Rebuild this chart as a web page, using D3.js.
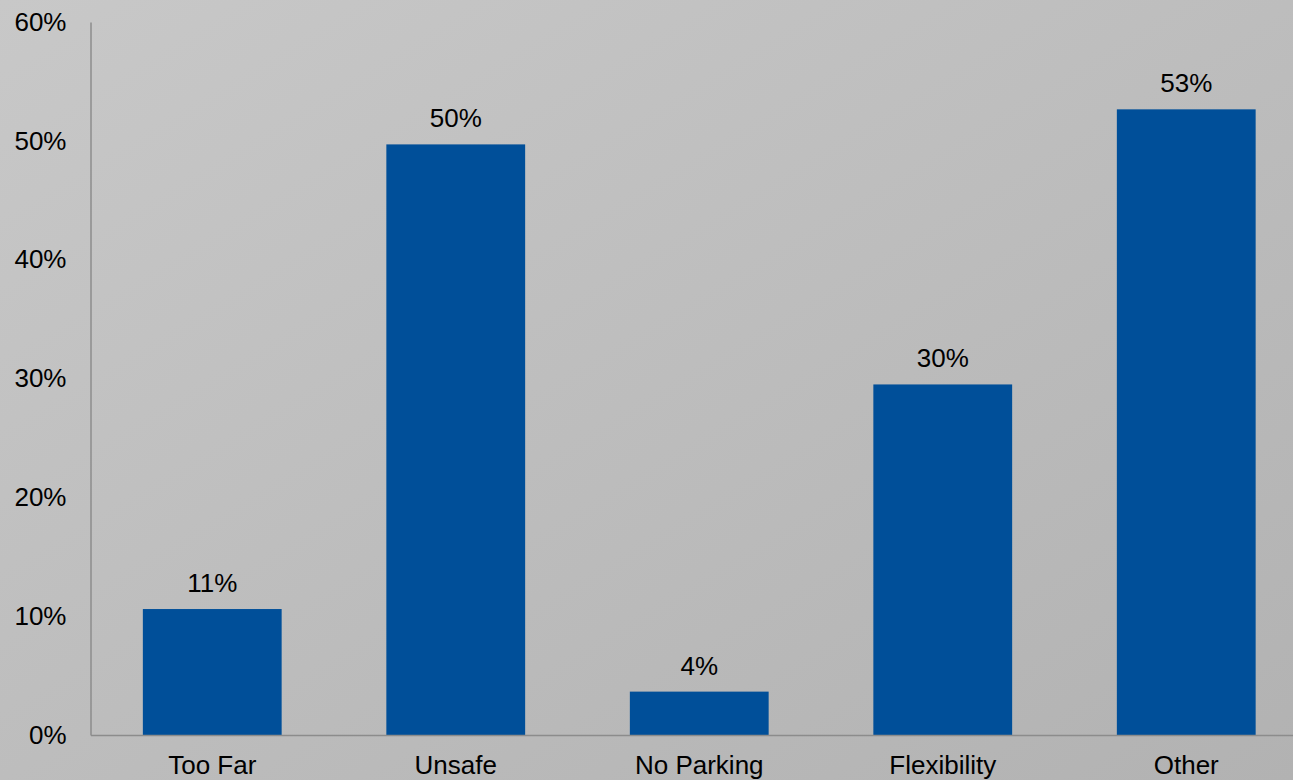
<!DOCTYPE html>
<html>
<head>
<meta charset="utf-8">
<script src="https://cdn.jsdelivr.net/npm/d3@7"></script>
<style>
  html, body { margin: 0; padding: 0; overflow: hidden; }
  svg { display: block; }
  text { font-family: "Liberation Sans", Arial, sans-serif; fill: #000; }
</style>
</head>
<body>
<svg id="chart" width="1293" height="780"></svg>
<script>
const categories = ["Too Far", "Unsafe", "No Parking", "Flexibility", "Other"];
const values = [10.6, 49.7, 3.65, 29.5, 52.65];
const valueLabels = ["11%", "50%", "4%", "30%", "53%"];
const yTicks = [0, 10, 20, 30, 40, 50, 60];

const W = 1293, H = 780;
const FS = "26px";
const svg = d3.select("#chart");

const defs = svg.append("defs");
const grad = defs.append("linearGradient").attr("id", "bg")
  .attr("x1", "0%").attr("y1", "0%").attr("x2", "100%").attr("y2", "100%");
grad.append("stop").attr("offset", "0%").attr("stop-color", "#c8c8c8");
grad.append("stop").attr("offset", "100%").attr("stop-color", "#b2b2b2");
svg.append("rect").attr("width", W).attr("height", H).attr("fill", "url(#bg)");

const x0 = 90.5, x1 = 1308, yTop = 22, yBot = 735;
const x = d3.scaleBand().domain(categories).range([x0, x1]).paddingInner(0.43).paddingOuter(0.215);
const y = d3.scaleLinear().domain([0, 60]).range([yBot, yTop]);

// bars
svg.selectAll("rect.bar").data(categories).enter().append("rect")
  .attr("class", "bar")
  .attr("x", d => x(d))
  .attr("width", x.bandwidth())
  .attr("y", (d, i) => y(values[i]))
  .attr("height", (d, i) => yBot - y(values[i]))
  .attr("fill", "#004f99");

// y axis
const yAxis = d3.axisLeft(y).tickValues(yTicks).tickFormat(d => d + "%").tickSize(0).tickPadding(24);
const gy = svg.append("g").attr("transform", `translate(${x0},0)`).call(yAxis);
gy.select(".domain").attr("stroke", "#8c8c8c").attr("stroke-width", 1.5);
gy.selectAll("text").attr("font-size", FS).attr("fill", "#000")
  .attr("font-family", "Liberation Sans, Arial, sans-serif");

// x axis
const xAxis = d3.axisBottom(x).tickSize(0).tickPadding(21);
const gx = svg.append("g").attr("transform", `translate(0,${yBot})`).call(xAxis);
gx.select(".domain").attr("stroke", "#8c8c8c").attr("stroke-width", 1.5);
gx.selectAll("text").attr("font-size", FS).attr("fill", "#000")
  .attr("font-family", "Liberation Sans, Arial, sans-serif");

// value labels
svg.selectAll("text.vl").data(categories).enter().append("text")
  .attr("class", "vl")
  .attr("x", d => x(d) + x.bandwidth() / 2)
  .attr("y", (d, i) => y(values[i]) - 17)
  .attr("text-anchor", "middle")
  .attr("font-size", FS)
  .text((d, i) => valueLabels[i]);
</script>
</body>
</html>
